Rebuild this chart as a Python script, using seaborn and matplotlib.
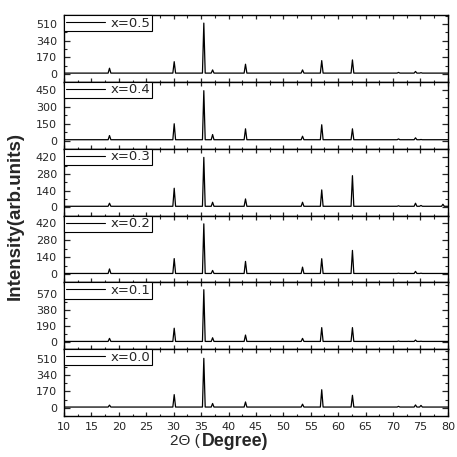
import numpy as np
import pandas as pd
import seaborn as sns
import matplotlib.pyplot as plt
from matplotlib.ticker import MultipleLocator, AutoMinorLocator

# peak positions (2theta) shared by all samples
peak_pos = [18.3, 30.1, 35.5, 37.1, 43.1, 53.5, 57.0, 62.6, 71.0, 74.1, 75.1, 79.1]

# samples, top panel first
samples = ["x=0.5", "x=0.4", "x=0.3", "x=0.2", "x=0.1", "x=0.0"]

# peak intensities (same order as peak_pos)
h_05 = [58, 125, 520, 41, 99, 41, 136, 143, 15, 25, 12, 8]
h_04 = [45, 150, 444, 54, 105, 39, 141, 105, 15, 25, 10, 8]
h_03 = [34, 160, 420, 42, 70, 42, 146, 266, 12, 34, 15, 25]
h_02 = [45, 130, 415, 33, 107, 60, 129, 197, 10, 25, 10, 8]
h_01 = [44, 163, 615, 51, 83, 44, 170, 170, 12, 24, 10, 8]
h_00 = [28, 137, 514, 45, 61, 38, 188, 130, 15, 30, 25, 8]
heights = [h_05, h_04, h_03, h_02, h_01, h_00]

baseline = 8

# y axis limits and major tick steps per panel
ylims = [(-82, 602), (-72, 522), (-70, 493), (-65, 483), (-83, 701), (-85, 609)]
ysteps = [170, 150, 140, 140, 190, 170]

sns.set_style("ticks")
plt.rcParams["font.family"] = ["DejaVu Sans"]
plt.rcParams["axes.linewidth"] = 1.0

fig, axes = plt.subplots(6, 1, figsize=(4.57, 4.57), dpi=100, sharex=True)
fig.subplots_adjust(left=0.140, right=0.980, top=0.967, bottom=0.0897, hspace=0)

w = 0.25
for ax, name, hs, ylim, step in zip(axes, samples, heights, ylims, ysteps):
    xs = [10.0]
    ys = [baseline]
    for p, h in zip(peak_pos, hs):
        xs += [p - w, p, p + w]
        ys += [baseline, max(h, baseline), baseline]
    xs.append(80.0)
    ys.append(baseline)
    df = pd.DataFrame({"two_theta": xs, "intensity": ys})
    sns.lineplot(data=df, x="two_theta", y="intensity", ax=ax, color="black",
                 linewidth=0.9, estimator=None, sort=False, label=name)
    ax.set_xlim(10, 80)
    ax.set_ylim(*ylim)
    ax.xaxis.set_major_locator(MultipleLocator(5))
    ax.xaxis.set_minor_locator(MultipleLocator(2.5))
    ax.set_yticks([0, step, 2 * step, 3 * step])
    ax.yaxis.set_minor_locator(AutoMinorLocator(2))
    ax.tick_params(axis="y", which="major", direction="in", length=4.5, width=0.9,
                   left=True, right=True, labelsize=8, pad=5)
    ax.tick_params(axis="y", which="minor", direction="in", length=2.5, width=0.8,
                   left=True, right=True)
    ax.tick_params(axis="x", which="major", direction="in", length=3.2, width=0.9,
                   top=True, bottom=True, labelsize=8, pad=4.5)
    ax.tick_params(axis="x", which="minor", direction="in", length=1.8, width=0.8,
                   top=True, bottom=True)
    ax.set_xlabel("")
    ax.set_ylabel("")
    for s in ax.spines.values():
        s.set_visible(True)
        s.set_linewidth(1.0)
        s.set_color("black")
    leg = ax.legend(loc="upper left", borderaxespad=0, fontsize=9.5, frameon=True,
                    fancybox=False, handlelength=3.0, handletextpad=0.4,
                    borderpad=0.12, framealpha=1)
    leg.get_frame().set_edgecolor("black")
    leg.get_frame().set_linewidth(0.8)
    for line in leg.get_lines():
        line.set_linewidth(0.8)

for ax in axes[:-1]:
    ax.tick_params(axis="x", labelbottom=False)

fig.text(0.034, 0.528, "Intensity(arb.units)", rotation=90, ha="center", va="center",
         fontsize=13.5, fontweight="bold",
         family=["Liberation Sans Narrow", "Liberation Sans", "DejaVu Sans"])
fig.text(0.438, 0.035, "2\u0398 (", ha="right", va="center", fontsize=11,
         family=["Liberation Sans", "DejaVu Sans"])
fig.text(0.442, 0.035, "Degree)", ha="left", va="center", fontsize=12.8,
         fontweight="bold", family=["Liberation Sans", "DejaVu Sans"])

fig.savefig("out.png", dpi=100)
